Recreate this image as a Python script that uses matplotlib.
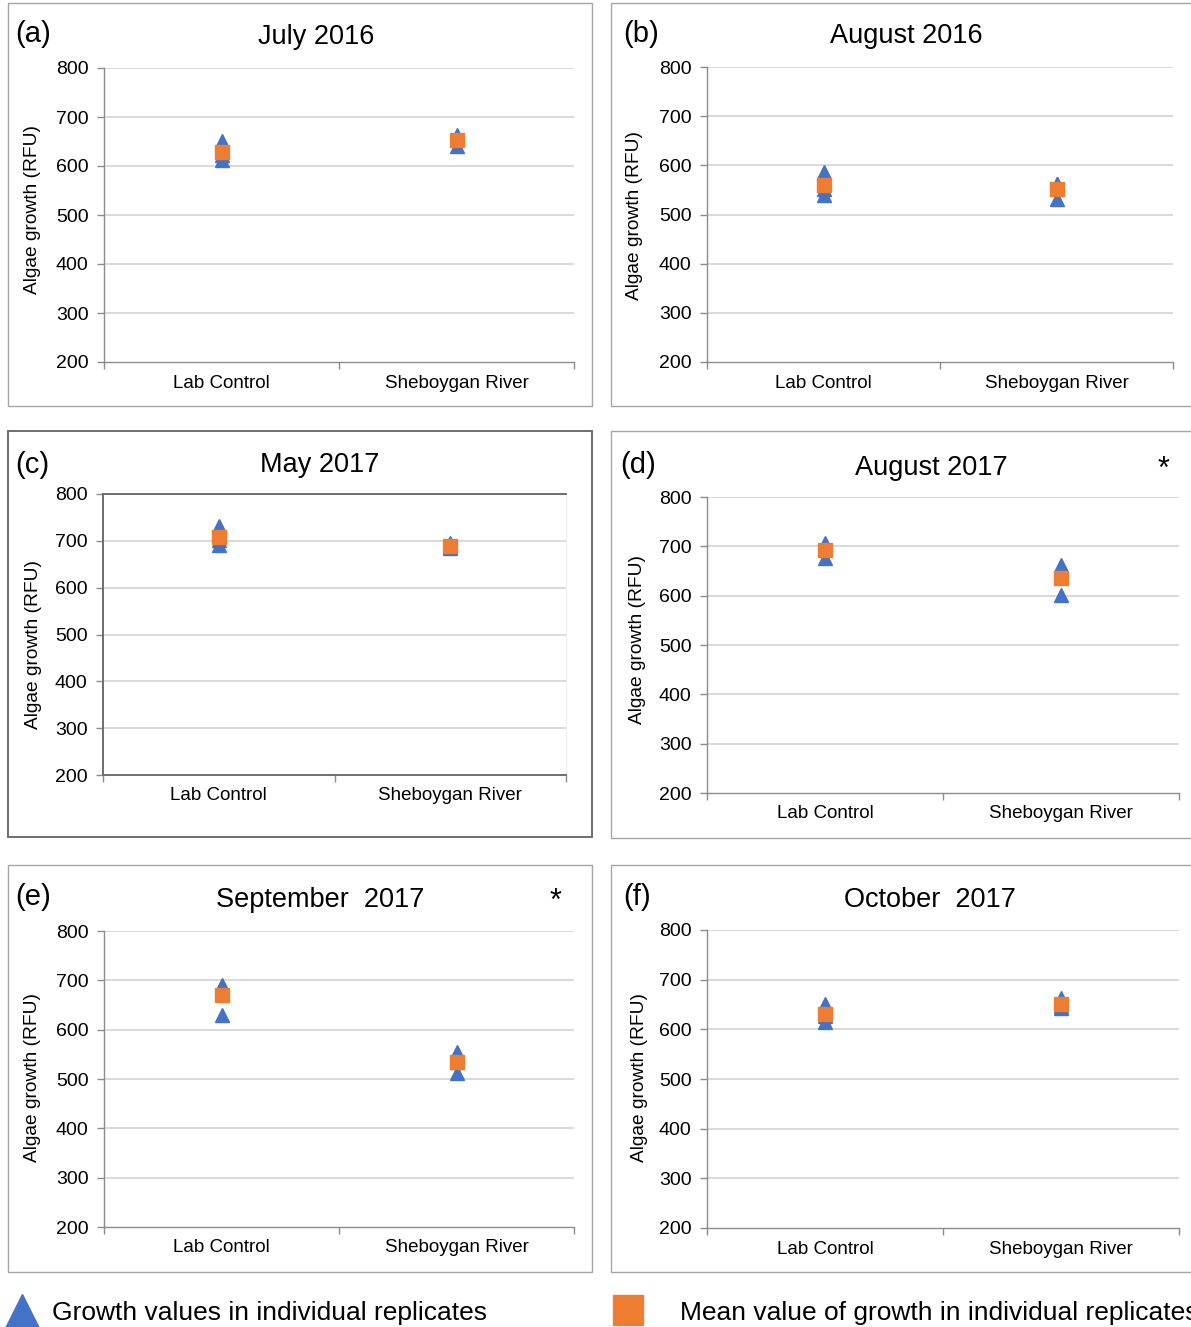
import numpy as np
import matplotlib
matplotlib.use("Agg")
import matplotlib.pyplot as plt
from matplotlib.patches import Rectangle
from matplotlib.lines import Line2D

plt.rcParams['font.family'] = ['Liberation Sans', 'DejaVu Sans']

W, H = 1191, 1327

sites = ["Lab Control", "Sheboygan River"]
titles = ["July 2016", "August 2016", "May 2017", "August 2017",
          "September  2017", "October  2017"]
letters = ["(a)", "(b)", "(c)", "(d)", "(e)", "(f)"]
signif = [False, False, False, True, True, False]

# replicate growth (RFU): [lab control, sheboygan river]
jul16 = [[652, 622, 613], [663, 655, 641]]
aug16 = [[587, 552, 540], [563, 562, 531]]
may17 = [[732, 701, 691], [695, 687, 684]]
aug17 = [[707, 696, 676], [662, 645, 601]]
sep17 = [[691, 689, 630], [555, 535, 512]]
oct17 = [[651, 627, 615], [663, 647, 643]]
replicates = [jul16, aug16, may17, aug17, sep17, oct17]

yticks = [200, 300, 400, 500, 600, 700, 800]

blue = "#4472C4"
orange = "#ED7D31"
grid_c = "#d9d9d9"
axis_c = "#8c8c8c"

# (frame box, plot area, title xy, letter xy, ylabel xy, star xy) in pixels
layout = [
    ((8, 3, 592, 406), (104, 68, 574, 362), (316, 37), (15, 34), (33, 210), None),
    ((611, 3, 1200, 406), (707, 67, 1173, 362), (906, 36), (623, 34), (634, 215), None),
    ((8, 431, 592, 837), (103, 494, 566, 775), (320, 465), (15, 465), (34, 645), None),
    ((611, 431, 1200, 838), (707, 497, 1179, 793), (931, 468), (620, 465), (637, 640), (1164, 470)),
    ((8, 865, 592, 1272), (104, 931, 574, 1227), (320, 900), (15, 897), (33, 1077), (555, 902)),
    ((611, 865, 1200, 1272), (707, 930, 1179, 1228), (930, 900), (623, 897), (640, 1078), None),
]

fig = plt.figure(figsize=(W / 100, H / 100), dpi=100)


def fx(x):
    return x / W


def fy(y):
    return 1 - y / H


for i, (frame, area, txy, lxy, ylxy, sxy) in enumerate(layout):
    x0, y0, x1, y1 = frame
    lw = 1.4 if i == 2 else 1.0
    ec = "#6e6e6e" if i == 2 else "#a6a6a6"
    fig.patches.append(Rectangle((fx(x0), fy(y1)), fx(x1 - x0), (y1 - y0) / H,
                                 transform=fig.transFigure, fill=False,
                                 edgecolor=ec, linewidth=lw))

    ax0, ay0, ax1, ay1 = area
    ax = fig.add_axes([fx(ax0), fy(ay1), fx(ax1 - ax0), (ay1 - ay0) / H])
    ax.set_ylim(200, 800)
    ax.set_xlim(-0.5, 1.5)
    ax.set_yticks(yticks)
    ax.set_xticks([0, 1])
    ax.set_xticklabels(sites, fontsize=13.5)
    ax.set_xticks([-0.5, 0.5, 1.5], minor=True)
    ax.tick_params(axis='x', which='major', length=0, pad=9)
    ax.tick_params(axis='x', which='minor', length=5, color=axis_c, width=1)
    ax.tick_params(axis='y', length=5, color=axis_c, width=1, labelsize=14, pad=6)
    for t in yticks[1:]:
        ax.axhline(t, color=grid_c, linewidth=1.4, zorder=0)
    for s in ["left", "bottom"]:
        ax.spines[s].set_color("#6e6e6e" if i == 2 else axis_c)
        ax.spines[s].set_linewidth(1.4 if i == 2 else 1.0)
    ax.spines["right"].set_visible(i == 2)
    ax.spines["right"].set_color("#eeeeee")
    ax.spines["top"].set_visible(i == 2)
    ax.spines["top"].set_color("#6e6e6e")
    ax.spines["top"].set_linewidth(1.4)

    for j, vals in enumerate(replicates[i]):
        ax.plot([j] * len(vals), vals, linestyle="none", marker="^",
                markersize=10, color=blue, zorder=3)
        ax.plot([j], [np.mean(vals)], linestyle="none", marker="s",
                markersize=10, color=orange, zorder=4)

    fig.text(fx(txy[0]), fy(txy[1]), titles[i], fontsize=19.5, ha="center", va="center")
    fig.text(fx(lxy[0]), fy(lxy[1]), letters[i], fontsize=21, ha="left", va="center")
    fig.text(fx(ylxy[0]), fy(ylxy[1]), "Algae growth (RFU)", fontsize=13.8,
             rotation=90, ha="center", va="center")
    if signif[i] and sxy is not None:
        fig.text(fx(sxy[0]), fy(sxy[1]), "*", fontsize=22, ha="center", va="center")

# legend along the bottom
fig.add_artist(Line2D([fx(22)], [fy(1311)], marker="^", markersize=24,
                      color=blue, linestyle="none", transform=fig.transFigure))
fig.text(fx(52), fy(1313), "Growth values in individual replicates",
         fontsize=19, ha="left", va="center")
fig.add_artist(Line2D([fx(628)], [fy(1310)], marker="s", markersize=21,
                      color=orange, linestyle="none", transform=fig.transFigure))
fig.text(fx(680), fy(1313), "Mean value of growth in individual replicates",
         fontsize=19, ha="left", va="center")

fig.savefig("out.png", dpi=100, facecolor="white")
